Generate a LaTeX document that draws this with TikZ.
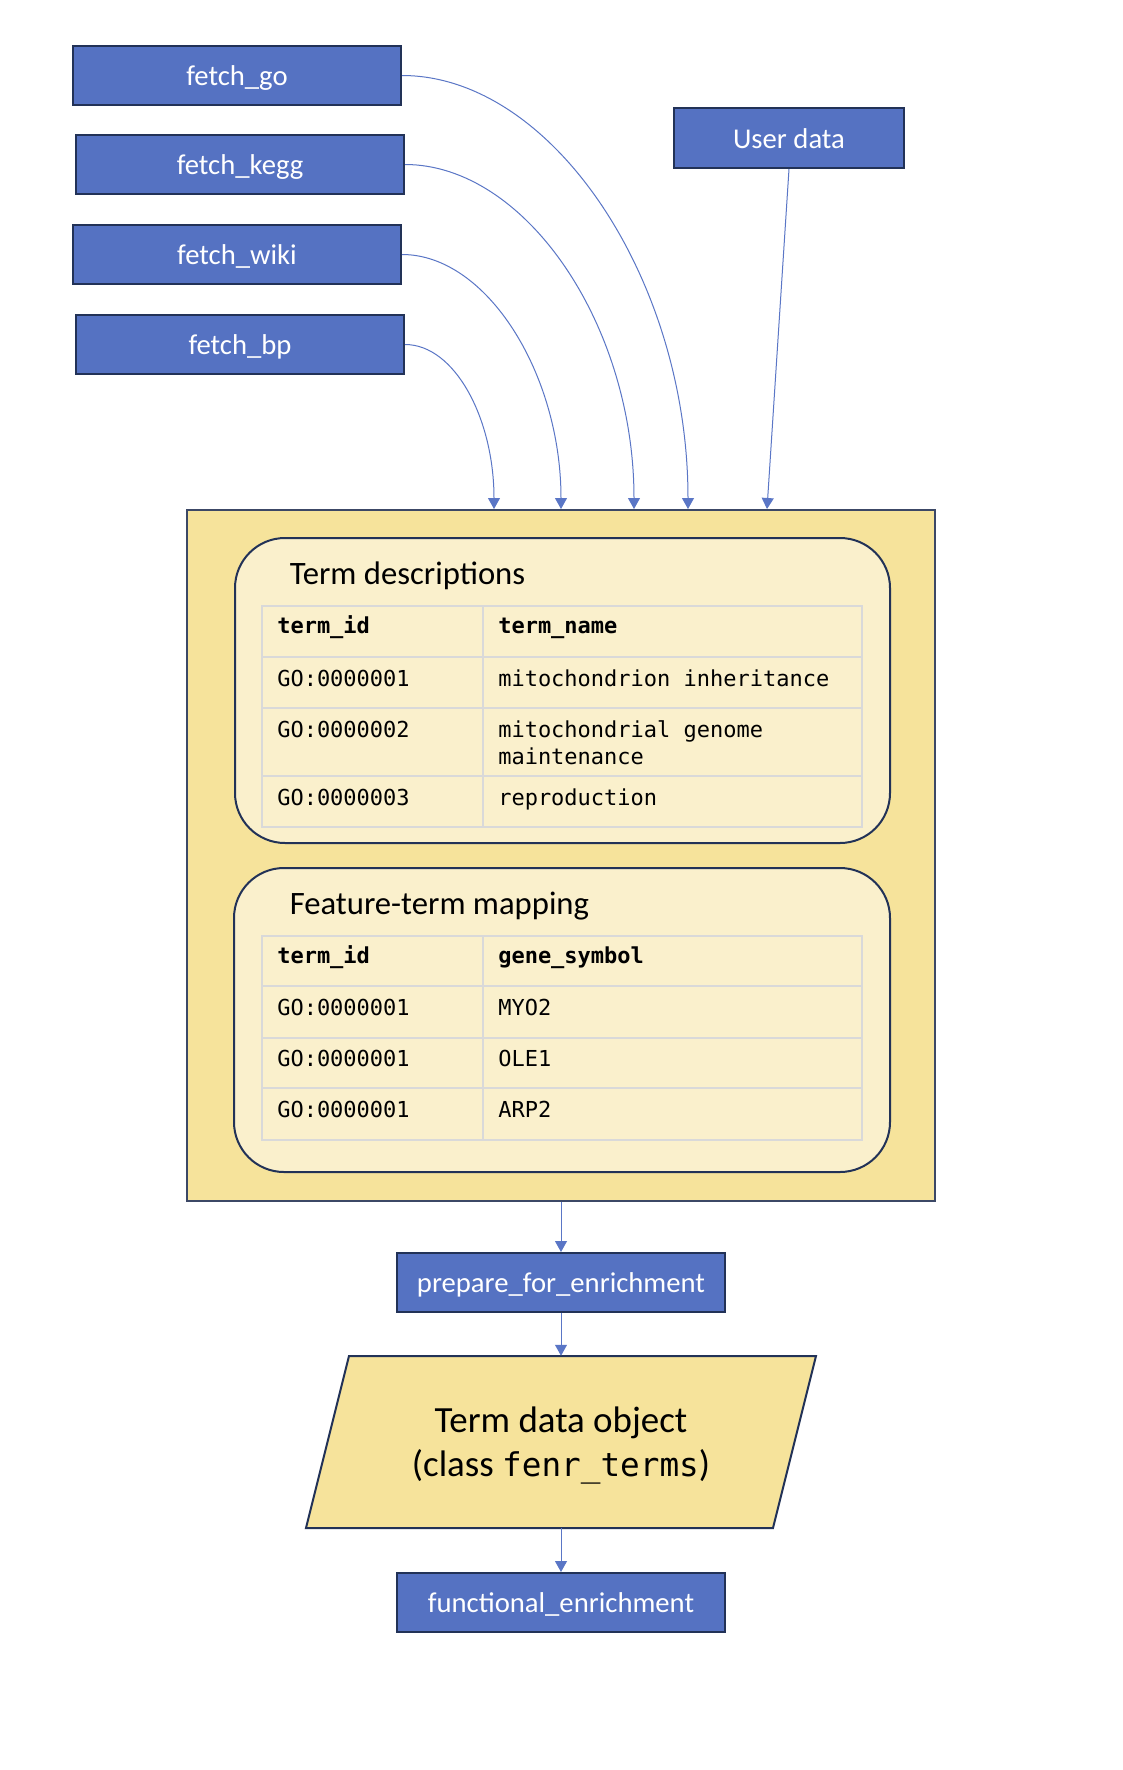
\documentclass[tikz,border=0pt]{standalone}
\usepackage{fontspec}
\setmainfont{Carlito}
\newfontfamily\mono{DejaVu Sans Mono}
\usetikzlibrary{arrows.meta}
\definecolor{boxblue}{HTML}{5572C2}
\definecolor{navy}{HTML}{223257}
\definecolor{gold}{HTML}{F6E39B}
\definecolor{paleg}{HTML}{FAF0CC}
\definecolor{gridgray}{HTML}{D9D9D9}
\definecolor{linkblue}{HTML}{5A76C6}
\definecolor{outline}{HTML}{3C4866}
\begin{document}
\begin{tikzpicture}[x=0.75pt,y=-0.75pt,
  fn/.style={draw=navy, line width=1.5pt, fill=boxblue, text=white,
    font=\fontsize{21.5}{26}\selectfont, minimum width=246pt, minimum height=44.25pt,
    inner sep=0pt, text height=15.5pt, text depth=0pt},
  conn/.style={draw=linkblue, line width=0.75pt, -{Triangle[width=9pt,length=8.25pt]}},
  panel/.style={draw=navy, line width=1.5pt, fill=paleg, rounded corners=37.5pt, inner sep=0pt},
  paneltitle/.style={anchor=base west, inner sep=0pt, font=\fontsize{24.5}{29}\selectfont},
  cell/.style={anchor=base west, inner sep=0pt, font=\mono\fontsize{16.5}{20}\selectfont},
  headcell/.style={anchor=base west, inner sep=0pt, font=\mono\bfseries\fontsize{16.5}{20}\selectfont},
  gridline/.style={draw=gridgray, line width=1.5pt},
]
\fill[white] (0,0) rectangle (1122,1770);
\useasboundingbox (0,0) rectangle (1122,1770);

% source boxes
\node[fn] (go)   at (237,75.5)  {fetch\_go};
\node[fn] (kegg) at (240,164.5) {fetch\_kegg};
\node[fn] (wiki) at (237,254.5) {fetch\_wiki};
\node[fn] (bp)   at (240,344.5) {fetch\_bp};
\node[fn, minimum width=172.5pt, minimum height=45pt] (ud) at (789,138) {User data};

% store
\node[draw=outline, line width=1.2pt, fill=gold, minimum width=561pt, minimum height=518.25pt, inner sep=0pt] (store) at (561,855.5) {};

\coordinate (i1) at (494,509);
\coordinate (i2) at (561,509);
\coordinate (i3) at (634,509);
\coordinate (i4) at (688,509);
\coordinate (i5) at (767,509);

\draw[conn] (go.east) .. controls +(150,0) and +(0,-230) .. (i4);
\draw[conn] (kegg.east) .. controls +(120,0) and +(0,-185) .. (i3);
\draw[conn] (wiki.east) .. controls +(85,0) and +(0,-135) .. (i2);
\draw[conn] (bp.east) .. controls +(50,0) and +(0,-90) .. (i1);
\draw[conn] (ud.south) -- (i5);

% panel 1
\node[panel, minimum width=491.25pt, minimum height=228.75pt] (td) at (562.5,690.5) {};
\node[paneltitle] (tdt) at (289.5,584) {Term descriptions};
\draw[gridline] (262,606) rectangle (862,827);
\draw[gridline] (483,606) -- (483,827);
\foreach \yy in {657,708,776} \draw[gridline] (262,\yy) -- (862,\yy);
\node[headcell] (t1h1) at (277,633) {term\_id};
\node[headcell] (t1h2) at (498,633) {term\_name};
\node[cell] (t1a1) at (277,686) {GO:0000001};
\node[cell] (t1b1) at (498,686) {mitochondrion inheritance};
\node[cell] (t1a2) at (277,737) {GO:0000002};
\node[cell] (t1b2) at (498,737) {mitochondrial genome};
\node[cell] (t1b2b) at (498,764) {maintenance};
\node[cell] (t1a3) at (277,805) {GO:0000003};
\node[cell] (t1b3) at (498,805) {reproduction};

% panel 2
\node[panel, minimum width=492pt, minimum height=228pt] (ft) at (562,1020) {};
\node[paneltitle] (ftt) at (289.5,914) {Feature-term mapping};
\draw[gridline] (262,936) rectangle (862,1140);
\draw[gridline] (483,936) -- (483,1140);
\foreach \yy in {986,1038,1088} \draw[gridline] (262,\yy) -- (862,\yy);
\node[headcell] (t2h1) at (277,963) {term\_id};
\node[headcell] (t2h2) at (498,963) {gene\_symbol};
\node[cell] (t2a1) at (277,1015) {GO:0000001};
\node[cell] (t2b1) at (498,1015) {MYO2};
\node[cell] (t2a2) at (277,1066) {GO:0000001};
\node[cell] (t2b2) at (498,1066) {OLE1};
\node[cell] (t2a3) at (277,1117) {GO:0000001};
\node[cell] (t2b3) at (498,1117) {ARP2};

% lower chain
\node[fn] (prep) at (561,1282.5) {prepare\_for\_enrichment};
\draw[draw=navy, line width=1.5pt, fill=gold] (349,1356) -- (816,1356) -- (773,1528) -- (306,1528) -- cycle;
\node[minimum width=350.25pt, minimum height=129pt, inner sep=0pt] (obj) at (561,1442) {};
\node[anchor=base, inner sep=0pt, font=\fontsize{27.7}{33}\selectfont] (objA) at (561,1432) {Term data object};
\node[anchor=base, inner sep=0pt, font=\fontsize{27.7}{33}\selectfont] (objB) at (561,1476) {(class {\mono\fontsize{24.5}{29}\selectfont fenr\_terms})};
\node[fn] (func) at (561,1602.5) {functional\_enrichment};

\draw[conn] (store.south) -- (prep.north);
\draw[conn] (prep.south) -- (obj.north);
\draw[conn] (obj.south) -- (func.north);
\end{tikzpicture}
\end{document}
